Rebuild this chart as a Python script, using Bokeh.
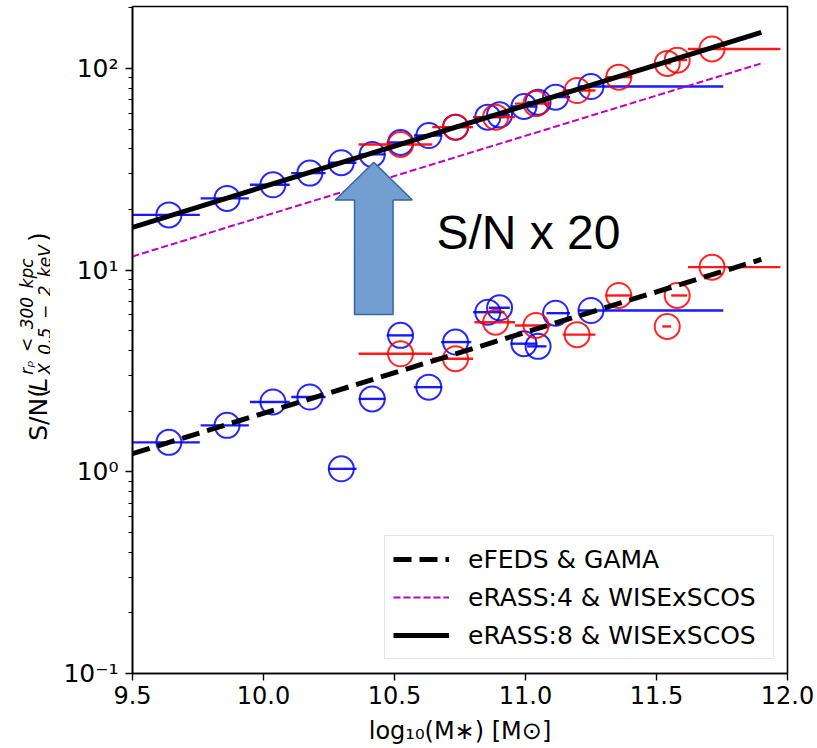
import math
from bokeh.plotting import figure
from bokeh.layouts import row
from bokeh.models import (FixedTicker, Legend, LegendItem, Label, Range1d,
                          NumeralTickFormatter)
from bokeh.core.properties import value
from bokeh.embed import file_html
from bokeh.resources import INLINE

# ---------------- data ----------------
# blue sample: stellar-mass bin centre, bin edges, S/N (eFEDS & GAMA), S/N (eRASS:8 prediction)
blue_mass = [9.639, 9.861, 10.036, 10.177, 10.297, 10.415, 10.523, 10.631, 10.733,
             10.856, 10.901, 10.994, 11.048, 11.115, 11.250]
blue_mass_lo = [9.500, 9.760, 9.948, 10.106, 10.248, 10.363, 10.470, 10.574, 10.678,
                10.800, 10.860, 10.943, 11.006, 11.080, 11.202]
blue_mass_hi = [9.757, 9.944, 10.100, 10.237, 10.355, 10.466, 10.570, 10.682, 10.793,
                10.920, 10.940, 11.045, 11.080, 11.170, 11.755]
blue_sn_efeds = [1.40, 1.70, 2.22, 2.35, 1.035, 2.30, 4.75, 2.63, 4.40,
                 6.19, 6.51, 4.32, 4.19, 6.12, 6.31]
blue_sn_erass8 = [18.8, 22.7, 26.5, 30.3, 34.1, 37.5, 43.0, 46.5, 51.2,
                  57.4, 58.9, 64.8, 68.1, 72.1, 81.4]

# red sample
red_mass = [10.523, 10.733, 10.886, 11.040, 11.197, 11.356, 11.541, 11.579, 11.712]
red_mass_lo = [10.363, 10.644, 10.805, 10.960, 11.142, 11.305, 11.522, 11.556, 11.620]
red_mass_hi = [10.644, 10.800, 10.960, 11.095, 11.267, 11.407, 11.556, 11.617, 11.973]
red_sn_efeds = [3.85, 3.64, 5.52, 5.32, 4.79, 7.49, 5.26, 7.49, 10.35]
red_sn_erass8 = [42.0, 51.2, 57.4, 67.0, 77.8, 90.6, 106.0, 110.0, 125.0]

# power-law fits
fit_mass = [9.5, 11.9]
fit_efeds = [1.23, 11.3]
fit_erass4 = [11.7, 106.0]
fit_erass8 = [16.3, 151.0]

x_ticks = [9.5, 10.0, 10.5, 11.0, 11.5, 12.0]
y_ticks = [0.1, 1.0, 10.0, 100.0]
y_tick_labels = ["10\u207b\u00b9", "10\u2070", "10\u00b9", "10\u00b2"]
legend_labels = ["eFEDS & GAMA", "eRASS:4 & WISExSCOS", "eRASS:8 & WISExSCOS"]

# ---------------- layout / style ----------------
W, H = 817, 748
SIDE = 50                       # narrow strip holding the rotated y-axis title
BL, BR, BT, BB = 132 - SIDE, 30, 6, 75
FONT = "DejaVu Sans"
FS = "24px"

p = figure(width=W - SIDE, height=H, x_range=Range1d(9.5, 12.0), y_range=Range1d(0.1, 203),
           y_axis_type="log", output_backend="svg", toolbar_location=None,
           min_border_left=BL, min_border_right=BR, min_border_top=BT, min_border_bottom=BB)
p.xgrid.visible = False
p.ygrid.visible = False
p.outline_line_color = "black"
p.outline_line_width = 1.6
p.outline_line_alpha = 1.0
p.background_fill_color = "white"
p.border_fill_color = "white"

p.xaxis.ticker = FixedTicker(ticks=x_ticks)
p.xaxis.formatter = NumeralTickFormatter(format="0.0")
minor = [k * 10.0 ** e for e in (-1, 0, 1, 2) for k in range(2, 10) if k * 10.0 ** e < 203]
p.yaxis.ticker = FixedTicker(ticks=y_ticks, minor_ticks=minor)
p.yaxis.major_label_overrides = dict(zip(y_ticks, y_tick_labels))

for ax in (p.xaxis, p.yaxis):
    ax.axis_line_color = "black"
    ax.axis_line_width = 1.6
    ax.major_tick_line_color = "black"
    ax.major_tick_line_width = 1.4
    ax.major_tick_in = 0
    ax.major_tick_out = 7
    ax.minor_tick_in = 0
    ax.minor_tick_out = 4
    ax.minor_tick_line_color = "black"
    ax.minor_tick_line_width = 1.0
    ax.major_label_text_font = FONT
    ax.major_label_text_font_size = FS
    ax.major_label_text_color = "black"
    ax.axis_label_text_font = FONT
    ax.axis_label_text_font_size = FS
    ax.axis_label_text_font_style = "normal"
    ax.axis_label_text_color = "black"
p.xaxis.minor_tick_line_color = None
p.xaxis.major_label_standoff = 5
p.yaxis.major_label_standoff = 7
p.yaxis.major_label_text_font_size = "25px"
p.xaxis.axis_label = "log\u2081\u2080(M\u2217) [M\u2299]"
p.xaxis.axis_label_standoff = 10

# ---------------- data marks ----------------
for col, mass, lo, hi, s_lo, s_hi in (
        ("blue", blue_mass, blue_mass_lo, blue_mass_hi, blue_sn_efeds, blue_sn_erass8),
        ("red", red_mass, red_mass_lo, red_mass_hi, red_sn_efeds, red_sn_erass8)):
    for sn in (s_lo, s_hi):
        p.segment(x0=lo, y0=sn, x1=hi, y1=sn, line_color=col, line_width=2.4, line_alpha=0.9)
        p.scatter(x=mass, y=sn, marker="circle", size=25, fill_color=None,
                  line_color=col, line_width=2, line_alpha=0.85)

r_efeds = p.line(fit_mass, fit_efeds, line_color="black", line_width=5, line_dash="18 8")
r_e4 = p.line(fit_mass, fit_erass4, line_color="#bf00bf", line_width=2, line_dash="7 3")
r_e8 = p.line(fit_mass, fit_erass8, line_color="black", line_width=5)

# ---------------- annotation arrow (S/N x 20) ----------------
AX, AHW, ASW = 10.421, 0.147, 0.0735
A_TIP, A_HEAD, A_TAIL = 34.3, 22.3, 6.03
p.patch([AX - ASW, AX - ASW, AX - AHW, AX, AX + AHW, AX + ASW, AX + ASW],
        [A_TAIL, A_HEAD, A_HEAD, A_TIP, A_HEAD, A_HEAD, A_TAIL],
        fill_color="#729fcf", line_color="#3465a4", line_width=1.5)
p.add_layout(Label(x=10.66, y=20.7, text="S/N x 20", text_font="Liberation Sans",
                   text_font_size="48px", text_color="black", text_baseline="top"))

# ---------------- legend ----------------
legend = Legend(items=[LegendItem(label=legend_labels[0], renderers=[r_efeds]),
                       LegendItem(label=legend_labels[1], renderers=[r_e4]),
                       LegendItem(label=legend_labels[2], renderers=[r_e8])],
                location=(252, 14), glyph_width=56, glyph_height=30, label_height=30,
                label_width=297, label_standoff=19, spacing=8, padding=8,
                label_text_font=FONT, label_text_font_size="25px", label_text_color="black",
                border_line_color="#cccccc", border_line_width=1.2,
                background_fill_color="white", background_fill_alpha=0.8)
p.add_layout(legend)

# ---------------- side strip with the y-axis title (pixel coordinates) ----------------
side = figure(width=SIDE, height=H, x_range=Range1d(0, SIDE), y_range=Range1d(H, 0),
              output_backend="svg", toolbar_location=None, min_border=0,
              x_axis_location=None, y_axis_location=None)
side.xgrid.visible = False
side.ygrid.visible = False
side.outline_line_color = None
side.background_fill_color = "white"
side.border_fill_color = "white"

def ylab(text, cx, cy, size, style="normal"):
    side.text(x=[cx], y=[cy], text=[text], angle=math.pi / 2, text_font=value(FONT),
              text_font_size=value(f"{size}px"), text_font_style=style,
              text_align="left", text_baseline="alphabetic", text_color="black")

EN = "\u2002"
ylab("S/N(", 38, 487, 25)
ylab("L", 38, 432, 25, "italic")
ylab("r\u209a" + EN + "<" + EN + "300" + EN + "kpc", 26, 413, 17, "italic")
ylab("X" + EN + "0.5" + EN + "\u2212" + EN + "2" + EN + "keV", 44, 413, 17, "italic")
ylab(")", 38, 264, 25)

open("out.html", "w").write(file_html(row(side, p), INLINE))
